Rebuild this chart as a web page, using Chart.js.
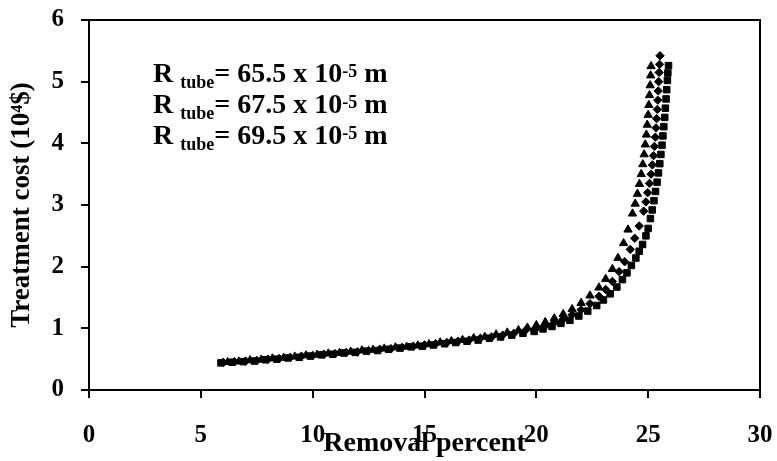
<!DOCTYPE html>
<html>
<head>
    <title>Treatment cost vs removal percent</title>
    <script src="https://cdn.jsdelivr.net/npm/chart.js"></script>
    <style>
        body { margin: 0; background: #fff; }
    </style>
</head>
<body>
    <canvas id="costChart" width="777" height="461"></canvas>

    <script>
        // tube radius (x 10^-5 m) for each series
        const tubeRadii = ['65.5', '67.5', '69.5'];

        // R tube = 65.5 x 10^-5 m (diamonds)
        const removal655 = [6.0, 6.5, 7.0, 7.5, 8.0, 8.5, 9.0, 9.5, 10.0, 10.5, 11.0, 11.5, 12.0, 12.5, 13.0, 13.5, 14.0, 14.5, 15.0, 15.5,
            16.0, 16.5, 17.0, 17.5, 18.0, 18.5, 19.0, 19.5, 20.0, 20.4, 20.8, 21.2, 21.6, 22.0, 22.4, 22.8, 23.1, 23.4, 23.7, 23.95,
            24.2, 24.4, 24.6, 24.8, 24.9, 24.98, 25.06, 25.13, 25.19, 25.24, 25.28, 25.32, 25.35, 25.38, 25.41, 25.43, 25.45, 25.47,
            25.49, 25.51, 25.53];
        const cost655 = [0.45, 0.46, 0.47, 0.48, 0.50, 0.51, 0.53, 0.55, 0.56, 0.58, 0.59, 0.61, 0.62, 0.64, 0.66, 0.67, 0.69, 0.71, 0.73, 0.75,
            0.77, 0.79, 0.81, 0.84, 0.86, 0.89, 0.92, 0.96, 1.00, 1.04, 1.09, 1.15, 1.22, 1.30, 1.40, 1.52, 1.63, 1.76, 1.92, 2.08,
            2.28, 2.46, 2.66, 2.90, 3.05, 3.20, 3.35, 3.50, 3.65, 3.80, 3.95, 4.10, 4.25, 4.40, 4.55, 4.70, 4.85, 5.00,
            5.15, 5.28, 5.42];

        // R tube = 67.5 x 10^-5 m (squares)
        const removal675 = [5.9, 6.4, 6.9, 7.4, 7.9, 8.4, 8.9, 9.4, 9.9, 10.4, 10.9, 11.4, 11.9, 12.4, 12.9, 13.4, 13.9, 14.4, 14.9, 15.4,
            15.9, 16.4, 16.9, 17.4, 17.9, 18.4, 18.9, 19.4, 19.9, 20.3, 20.7, 21.1, 21.5, 21.9, 22.3, 22.7, 23.0, 23.3, 23.6, 23.85,
            24.05, 24.25, 24.45, 24.6, 24.75, 24.9, 25.0, 25.1, 25.18, 25.26, 25.33, 25.4, 25.46, 25.52, 25.57, 25.62, 25.66, 25.7,
            25.74, 25.77, 25.8, 25.83, 25.86, 25.88, 25.91];
        const cost675 = [0.44, 0.45, 0.46, 0.47, 0.49, 0.50, 0.52, 0.53, 0.55, 0.57, 0.58, 0.60, 0.61, 0.63, 0.64, 0.66, 0.68, 0.70, 0.71, 0.73,
            0.75, 0.77, 0.79, 0.81, 0.84, 0.86, 0.89, 0.92, 0.95, 0.99, 1.03, 1.08, 1.13, 1.20, 1.28, 1.37, 1.46, 1.56, 1.67, 1.79,
            1.90, 2.02, 2.14, 2.25, 2.36, 2.50, 2.62, 2.78, 2.92, 3.07, 3.22, 3.37, 3.52, 3.67, 3.82, 3.97, 4.12, 4.27,
            4.42, 4.57, 4.72, 4.87, 5.02, 5.14, 5.26];

        // R tube = 69.5 x 10^-5 m (triangles)
        const removal695 = [6.2, 6.7, 7.2, 7.7, 8.2, 8.7, 9.2, 9.7, 10.2, 10.7, 11.2, 11.7, 12.2, 12.7, 13.2, 13.7, 14.2, 14.7, 15.2, 15.7,
            16.2, 16.7, 17.2, 17.7, 18.2, 18.7, 19.2, 19.6, 20.0, 20.4, 20.8, 21.2, 21.6, 22.0, 22.4, 22.8, 23.1, 23.4, 23.65, 23.9,
            24.1, 24.3, 24.42, 24.52, 24.61, 24.69, 24.76, 24.82, 24.87, 24.92, 24.96, 25.0, 25.03, 25.06, 25.09, 25.11, 25.13];
        const cost695 = [0.45, 0.46, 0.48, 0.49, 0.51, 0.52, 0.54, 0.56, 0.57, 0.59, 0.60, 0.62, 0.64, 0.65, 0.67, 0.69, 0.70, 0.72, 0.74, 0.77,
            0.79, 0.81, 0.84, 0.86, 0.90, 0.93, 0.97, 1.01, 1.05, 1.10, 1.16, 1.23, 1.31, 1.41, 1.53, 1.66, 1.80, 1.96, 2.14, 2.38,
            2.60, 2.86, 3.02, 3.18, 3.34, 3.50, 3.66, 3.82, 3.98, 4.14, 4.30, 4.46, 4.62, 4.78, 4.94, 5.10, 5.25];

        const xTicks = [0, 5, 10, 15, 20, 25, 30];
        const yTicks = [0, 1, 2, 3, 4, 5, 6];

        const serif = '"Liberation Serif", "Times New Roman", serif';

        function toPoints(xs, ys) {
            return xs.map((x, i) => ({ x: x, y: ys[i] }));
        }

        // box round the plot area (top and right sides)
        const frame = {
            id: 'frame',
            beforeDatasetsDraw(chart) {
                const { ctx, chartArea: a } = chart;
                ctx.save();
                ctx.strokeStyle = '#000';
                ctx.lineWidth = 2;
                ctx.beginPath();
                ctx.moveTo(a.left, a.top);
                ctx.lineTo(a.right, a.top);
                ctx.lineTo(a.right, a.bottom);
                ctx.stroke();
                ctx.restore();
            }
        };

        // text legend: R with "tube" subscript and 10^-5 superscript
        const radiusLegend = {
            id: 'radiusLegend',
            afterDraw(chart) {
                const ctx = chart.ctx;
                const big = 'bold 28px ' + serif;
                const small = 'bold 18px ' + serif;
                ctx.save();
                ctx.fillStyle = '#000';
                ctx.textBaseline = 'alphabetic';
                tubeRadii.forEach((r, i) => {
                    let x = 153;
                    const y = 82 + i * 31;
                    const parts = [
                        [big, 'R ', 0],
                        [small, 'tube', 6],
                        [big, '= ' + r + ' x 10', 0],
                        [small, '-5', -5],
                        [big, ' m', 0]
                    ];
                    parts.forEach(([font, text, dy]) => {
                        ctx.font = font;
                        ctx.fillText(text, x, y + dy);
                        x += ctx.measureText(text).width;
                    });
                });
                ctx.restore();
            }
        };

        const pointStyle = {
            backgroundColor: '#000',
            borderColor: '#000',
            borderWidth: 1,
            showLine: false
        };

        const ctx = document.getElementById('costChart').getContext('2d');
        new Chart(ctx, {
            type: 'scatter',
            data: {
                datasets: [
                    Object.assign({ label: tubeRadii[0], data: toPoints(removal655, cost655), pointStyle: 'rectRot', pointRadius: 4.2 }, pointStyle),
                    Object.assign({ label: tubeRadii[1], data: toPoints(removal675, cost675), pointStyle: 'rect', pointRadius: 4.6 }, pointStyle),
                    Object.assign({ label: tubeRadii[2], data: toPoints(removal695, cost695), pointStyle: 'triangle', pointRadius: 4.8 }, pointStyle)
                ]
            },
            options: {
                responsive: false,
                animation: false,
                devicePixelRatio: 1,
                layout: { padding: { left: 0, top: 20, right: 17, bottom: 0 } },
                plugins: {
                    legend: { display: false },
                    tooltip: { enabled: false }
                },
                scales: {
                    x: {
                        type: 'linear',
                        min: 0,
                        max: 30,
                        afterBuildTicks: s => { s.ticks = xTicks.map(v => ({ value: v })); },
                        afterFit: s => { s.height = 71; s.paddingLeft = 0; s.paddingRight = 0; },
                        border: { display: true, color: '#000', width: 2 },
                        grid: { drawOnChartArea: false, drawTicks: true, tickLength: 8, color: '#000', lineWidth: 2 },
                        ticks: { color: '#000', padding: 23, maxRotation: 0, font: { family: serif, size: 25, weight: 'bold' } },
                        title: {
                            display: true,
                            text: 'Removal percent',
                            color: '#000',
                            padding: { top: 0, bottom: 0 },
                            font: { family: serif, size: 28, weight: 'bold' }
                        }
                    },
                    y: {
                        type: 'linear',
                        min: 0,
                        max: 6,
                        afterBuildTicks: s => { s.ticks = yTicks.map(v => ({ value: v })); },
                        afterFit: s => { s.width = 89; s.paddingTop = 0; s.paddingBottom = 0; },
                        border: { display: true, color: '#000', width: 2 },
                        grid: { drawOnChartArea: false, drawTicks: true, tickLength: 8, color: '#000', lineWidth: 2 },
                        ticks: { color: '#000', padding: 17, font: { family: serif, size: 25, weight: 'bold' } },
                        title: {
                            display: true,
                            text: 'Treatment cost (10⁴$)',
                            color: '#000',
                            padding: { top: 6, bottom: 0 },
                            font: { family: serif, size: 27, weight: 'bold' }
                        }
                    }
                }
            },
            plugins: [frame, radiusLegend]
        });
    </script>
</body>
</html>
